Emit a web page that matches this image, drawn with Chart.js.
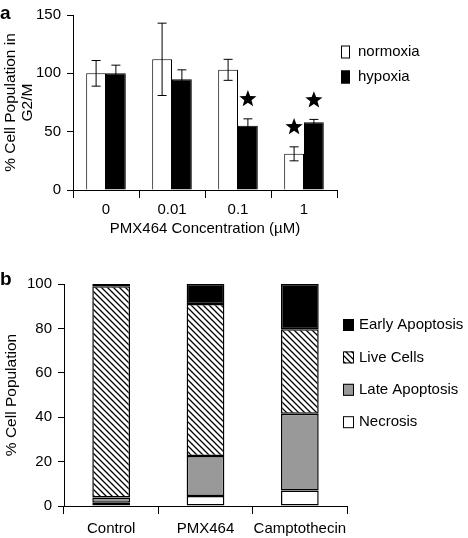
<!DOCTYPE html>
<html>
<head>
<meta charset="utf-8">
<script src="https://cdn.jsdelivr.net/npm/chart.js@4"></script>
<style>
body { margin: 0; background: #fff; }
#wrapA { position: absolute; left: 0; top: 0; width: 468px; height: 240px; }
#wrapB { position: absolute; left: 0; top: 240px; width: 468px; height: 298px; }
</style>
</head>
<body>
<div id="wrapA"><canvas id="chartA" width="468" height="240"></canvas></div>
<div id="wrapB"><canvas id="chartB" width="468" height="298"></canvas></div>
<script>
// panel a - G2/M
var concLabels = ['0', '0.01', '0.1', '1'];
var normoxia = [100, 112, 103, 31];
var hypoxia = [100, 95, 55, 58];
var normoxiaErr = [11, 31, 9, 6];
var hypoxiaErr = [7, 8, 6, 2.5];
var normoxiaStar = [null, null, null, 54];
var hypoxiaStar = [null, null, 78, 77];
var yTicksA = [0, 50, 100, 150];

// panel b - apoptosis
var treatments = ['Control', 'PMX464', 'Camptothecin'];
var necrosis = [1.5, 4.5, 7];
var lateApoptosis = [2.3, 18, 34.6];
var liveCells = [95.2, 68.5, 38];
var earlyApoptosis = [1, 9, 20.4];
var yTicksB = [0, 20, 40, 60, 80, 100];

Chart.defaults.font.family = '"Liberation Sans", Arial, sans-serif';
Chart.defaults.font.size = 15;
Chart.defaults.color = '#000';

// hatch pattern for live cells
function makeHatch() {
    var s = 6;
    var c = document.createElement('canvas');
    c.width = s; c.height = s;
    var g = c.getContext('2d');
    g.fillStyle = '#fff';
    g.fillRect(0, 0, s, s);
    g.strokeStyle = '#000';
    g.lineWidth = 1.3;
    g.beginPath();
    g.moveTo(-1, -1); g.lineTo(s + 1, s + 1);
    g.moveTo(-1, s - 1); g.lineTo(1, s + 1);
    g.moveTo(s - 1, -1); g.lineTo(s + 1, 1);
    g.stroke();
    return document.getElementById('chartB').getContext('2d').createPattern(c, 'repeat');
}
var hatch = makeHatch();

function drawStar(ctx, cx, cy, R, r) {
    ctx.beginPath();
    for (var i = 0; i < 10; i++) {
        var rad = (i % 2 === 0) ? R : r;
        var a = -Math.PI / 2 + i * Math.PI / 5;
        var x = cx + rad * Math.cos(a), y = cy + rad * Math.sin(a);
        if (i === 0) ctx.moveTo(x, y); else ctx.lineTo(x, y);
    }
    ctx.closePath();
    ctx.fill();
}

// error bars, stars, legend and panel letter
var extrasPlugin = {
    id: 'extras',
    afterDatasetsDraw: function(chart) {
        var ctx = chart.ctx;
        var ys = chart.scales.y;
        var opt = chart.options.plugins.extras;
        ctx.save();
        chart.data.datasets.forEach(function(ds, di) {
            var meta = chart.getDatasetMeta(di);
            meta.data.forEach(function(bar, i) {
                if (ds.err) {
                    var v = ds.data[i];
                    var yt = ys.getPixelForValue(v + ds.err[i]);
                    var yb = ys.getPixelForValue(v - ds.err[i]);
                    ctx.strokeStyle = '#000';
                    ctx.lineWidth = 1;
                    ctx.beginPath();
                    ctx.moveTo(bar.x, yt); ctx.lineTo(bar.x, yb);
                    ctx.moveTo(bar.x - 4.5, yt); ctx.lineTo(bar.x + 4.5, yt);
                    ctx.moveTo(bar.x - 4.5, yb); ctx.lineTo(bar.x + 4.5, yb);
                    ctx.stroke();
                }
                if (ds.star && ds.star[i] != null) {
                    ctx.fillStyle = '#000';
                    drawStar(ctx, bar.x, ys.getPixelForValue(ds.star[i]), 9, 3.8);
                }
            });
        });
        // legend
        ctx.font = '15px "Liberation Sans", Arial, sans-serif';
        ctx.textBaseline = 'middle';
        opt.order.forEach(function(di, k) {
            var ds = chart.data.datasets[di];
            var y = opt.legendY + k * opt.legendGap;
            ctx.fillStyle = ds.backgroundColor;
            ctx.fillRect(opt.legendX, y - opt.boxH / 2, opt.boxW, opt.boxH);
            ctx.strokeStyle = '#000';
            ctx.lineWidth = 1;
            ctx.strokeRect(opt.legendX + 0.5, y - opt.boxH / 2 + 0.5, opt.boxW - 1, opt.boxH - 1);
            ctx.fillStyle = '#000';
            ctx.textAlign = 'left';
            ctx.fillText(ds.label, opt.textX, y);
        });
        ctx.font = 'bold 19px "Liberation Sans", Arial, sans-serif';
        ctx.fillText(opt.letter, 0, opt.letterY);
        ctx.restore();
    }
};

var axisColor = '#000';

new Chart(document.getElementById('chartA'), {
    type: 'bar',
    data: {
        labels: concLabels,
        datasets: [
            { label: 'normoxia', data: normoxia, backgroundColor: '#fff', borderColor: '#000', borderWidth: 1, err: normoxiaErr, star: normoxiaStar },
            { label: 'hypoxia', data: hypoxia, backgroundColor: '#000', borderColor: '#000', borderWidth: 1, err: hypoxiaErr, star: hypoxiaStar }
        ]
    },
    options: {
        animation: false,
        responsive: false,
        layout: { padding: { top: 15, right: 131, left: 0, bottom: 0 } },
        datasets: { bar: { categoryPercentage: 0.6, barPercentage: 1 } },
        plugins: {
            legend: { display: false },
            tooltip: { enabled: false },
            extras: { letter: 'a', letterY: 14, legendX: 341, legendY: 52, legendGap: 25, boxW: 9, boxH: 13, textX: 358, order: [0, 1] }
        },
        scales: {
            x: {
                grid: { offset: true, drawOnChartArea: false, tickLength: 8, color: axisColor },
                border: { color: axisColor },
                ticks: { padding: 3, maxRotation: 0, minRotation: 0 },
                title: { display: true, text: 'PMX464 Concentration (µM)', padding: { top: 0, bottom: 2 } },
                afterFit: function(s) { s.height = 50; }
            },
            y: {
                min: 0, max: 150,
                afterBuildTicks: function(s) { s.ticks = yTicksA.map(function(v) { return { value: v }; }); },
                grid: { drawOnChartArea: false, tickLength: 6, color: axisColor },
                border: { color: axisColor },
                ticks: { padding: 6 },
                title: { display: true, text: ['% Cell Population in', 'G2/M'], padding: { top: 2, bottom: 0 }, font: { size: 15.5, lineHeight: 1.1 } },
                afterFit: function(s) { s.width = 73; }
            }
        }
    },
    plugins: [extrasPlugin]
});

new Chart(document.getElementById('chartB'), {
    type: 'bar',
    data: {
        labels: treatments,
        datasets: [
            { label: 'Necrosis', data: necrosis, backgroundColor: '#fff' },
            { label: 'Late Apoptosis', data: lateApoptosis, backgroundColor: '#999' },
            { label: 'Live Cells', data: liveCells, backgroundColor: hatch },
            { label: 'Early Apoptosis', data: earlyApoptosis, backgroundColor: '#000' }
        ]
    },
    options: {
        animation: false,
        responsive: false,
        layout: { padding: { top: 44, right: 121, left: 0, bottom: 0 } },
        datasets: { bar: { categoryPercentage: 0.4, barPercentage: 1, borderColor: '#000', borderWidth: 1.5, borderSkipped: false } },
        plugins: {
            legend: { display: false },
            tooltip: { enabled: false },
            extras: { letter: 'b', letterY: 40, legendX: 343, legendY: 85, legendGap: 32.4, boxW: 11, boxH: 12, textX: 359, order: [3, 2, 1, 0] }
        },
        scales: {
            x: {
                stacked: true,
                grid: { offset: true, drawOnChartArea: false, tickLength: 8, color: axisColor },
                border: { color: axisColor },
                ticks: { padding: 6, maxRotation: 0, minRotation: 0, autoSkip: false },
                afterFit: function(s) { s.height = 32; }
            },
            y: {
                stacked: true,
                min: 0, max: 100,
                afterBuildTicks: function(s) { s.ticks = yTicksB.map(function(v) { return { value: v }; }); },
                grid: { drawOnChartArea: false, tickLength: 6, color: axisColor },
                border: { color: axisColor },
                ticks: { padding: 6 },
                title: { display: true, text: '% Cell Population', padding: { top: 2, bottom: 0 }, font: { size: 15.5 } },
                afterFit: function(s) { s.width = 64; }
            }
        }
    },
    plugins: [extrasPlugin]
});
</script>
</body>
</html>
